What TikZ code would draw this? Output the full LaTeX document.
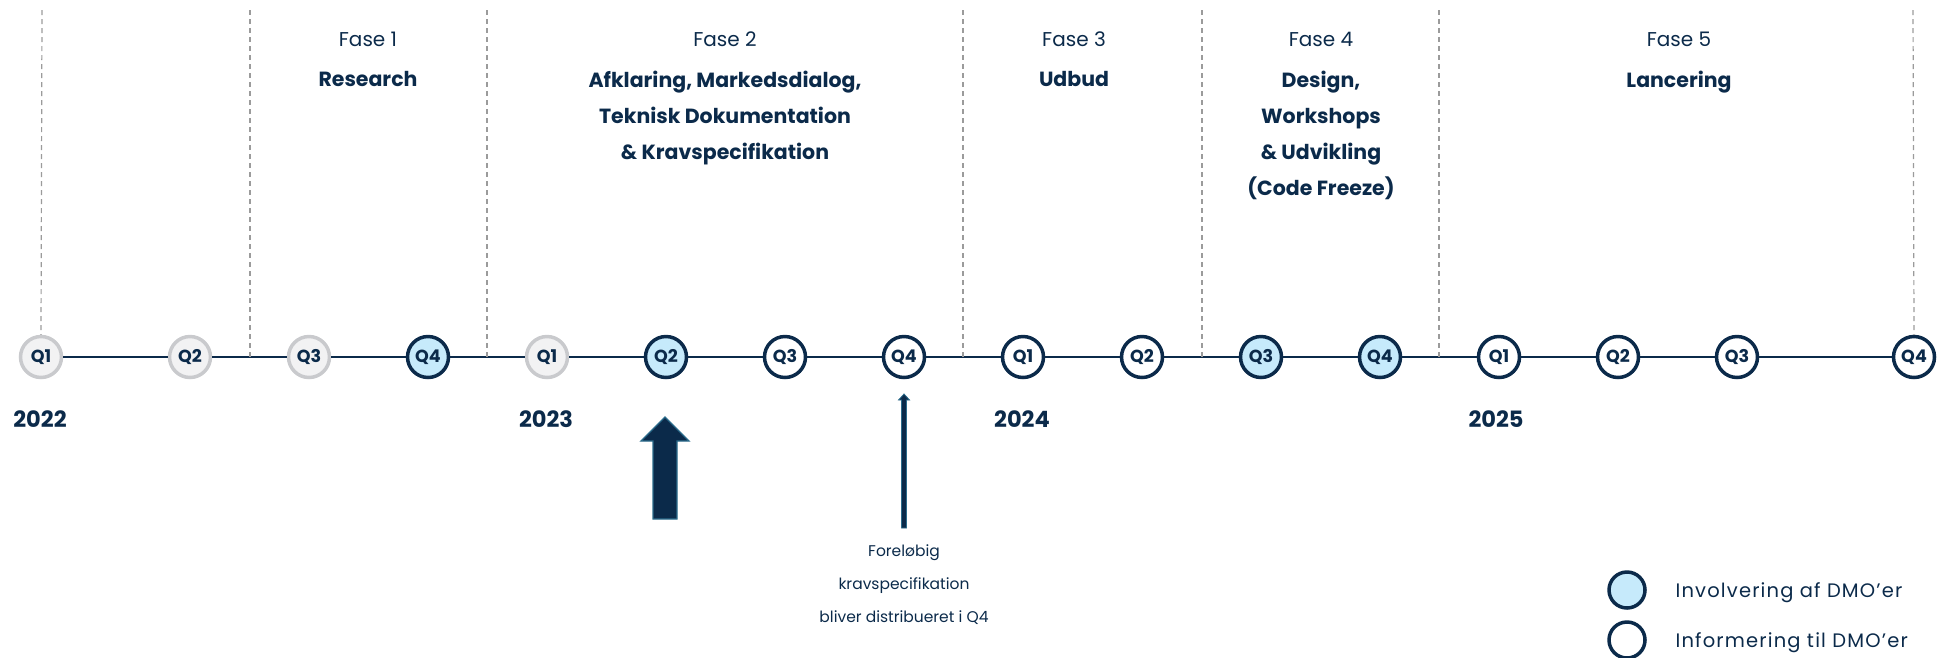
\documentclass[tikz,border=0pt]{standalone}
\usepackage{fontspec}
\setmainfont{Poppins}
\usetikzlibrary{positioning}

\definecolor{navy}{HTML}{0B2A4A}
\definecolor{arrowedge}{HTML}{2B6C8C}
\definecolor{lightblue}{HTML}{C6EAFB}
\definecolor{pastline}{HTML}{C9CACD}
\definecolor{pastfill}{HTML}{F2F2F3}
\definecolor{dashgray}{HTML}{9B9B9B}

\tikzset{
  quarter/.style={circle, minimum size=41pt, inner sep=0pt, line width=3.5pt,
    text=navy, font=\bfseries\fontsize{17.5}{17.5}\selectfont},
  past/.style={quarter, draw=pastline, fill=pastfill},
  inv/.style={quarter, draw=navy, fill=lightblue},
  info/.style={quarter, draw=navy, fill=white},
  divider/.style={dashgray, line width=1.2pt, dash pattern=on 5pt off 4pt},
  fase/.style={text=navy, anchor=base, font=\fontsize{20}{24}\selectfont},
  title/.style={text=navy, anchor=north, align=center, inner sep=0pt,
    font=\bfseries\fontsize{20.5}{36}\selectfont},
  year/.style={text=navy, anchor=base, font=\bfseries\fontsize{22.5}{22.5}\selectfont},
  note/.style={text=navy, anchor=north, align=center, inner sep=0pt,
    font=\fontsize{15.5}{33}\selectfont},
  legend/.style={text=navy, anchor=base west,
    font=\fontsize{19.5}{19.5}\selectfont\addfontfeatures{LetterSpace=6}}
}

\begin{document}
\begin{tikzpicture}[x=1pt, y=-1pt]
  \useasboundingbox (0,0) rectangle (1950,657);
  % quarters
  \foreach \n/\x/\s/\q in {1/41/past/Q1, 2/190/past/Q2, 3/309/past/Q3, 4/428/inv/Q4,
      5/547/past/Q1, 6/666/inv/Q2, 7/785/info/Q3, 8/904/info/Q4,
      9/1023/info/Q1, 10/1142/info/Q2, 11/1261/inv/Q3, 12/1380/inv/Q4,
      13/1499/info/Q1, 14/1618/info/Q2, 15/1737/info/Q3, 16/1914/info/Q4}
    \node[\s] (q\n) at (\x, 357) {\q};
  % timeline
  \foreach \i [evaluate=\i as \j using int(\i+1)] in {1,...,15}
    \draw[navy, line width=2.6pt] (q\i) -- (q\j);
  % dividers
  \draw[divider] (42, 10) -- (q1.north);
  \draw[divider] (1913, 10) -- (q16.north);
  \foreach \x in {250, 487, 963, 1202, 1439}
    \draw[divider] (\x, 10) -- (\x, 357);
  % phases
  \node[fase] (f1) at (368, 46) {Fase 1};
  \node[title] (t1) at (368, 71) {Research};
  \node[fase] (f2) at (725, 46) {Fase 2};
  \node[title] (t2) at (725, 71) {Afklaring, Markedsdialog,\\Teknisk Dokumentation\\\& Kravspecifikation};
  \node[fase] (f3) at (1074, 46) {Fase 3};
  \node[title] (t3) at (1074, 71) {Udbud};
  \node[fase] (f4) at (1321, 46) {Fase 4};
  \node[title] (t4) at (1321, 71) {Design,\\Workshops\\\& Udvikling\\(Code Freeze)};
  \node[fase] (f5) at (1679, 46) {Fase 5};
  \node[title] (t5) at (1679, 71) {Lancering};
  % years
  \node[year] (y22) at (40, 427) {2022};
  \node[year] (y23) at (546, 427) {2023};
  \node[year] (y24) at (1022, 427) {2024};
  \node[year] (y25) at (1496, 427) {2025};
  % arrows
  \filldraw[fill=navy, draw=arrowedge, line width=1.3pt]
    (665, 417) -- (689, 441) -- (677, 441) -- (677, 519) -- (653, 519) -- (653, 441) -- (641, 441) -- cycle;
  \filldraw[fill=navy, draw=arrowedge, line width=0.8pt]
    (904, 394) -- (909.5, 400) -- (906.5, 400) -- (906.5, 528) -- (901.5, 528) -- (901.5, 400) -- (898.5, 400) -- cycle;
  \node[note] (n1) at (904, 544.5) {Foreløbig\\kravspecifikation\\bliver distribueret i Q4};
  % legend
  \node[inv, minimum size=36pt] (l1) at (1627, 590) {};
  \node[info, minimum size=36pt] (l2) at (1627, 640) {};
  \node[legend] at (1672, 597) {Involvering af DMO’er};
  \node[legend] at (1672, 647) {Informering til DMO’er};
\end{tikzpicture}
\end{document}
